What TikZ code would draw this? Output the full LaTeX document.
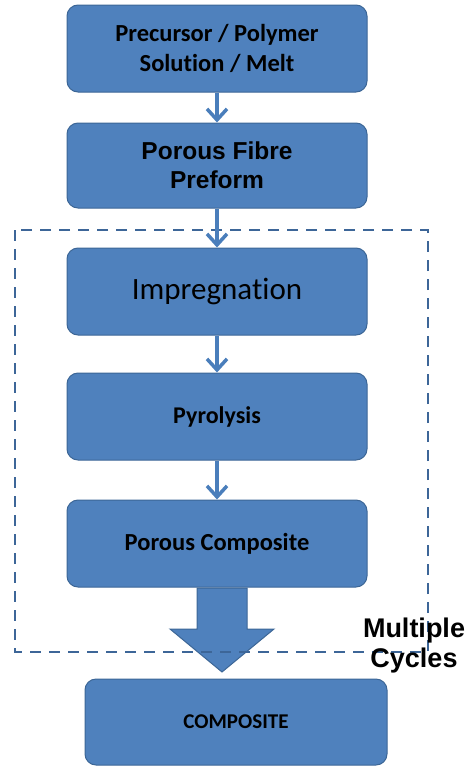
\documentclass[tikz,border=0pt]{standalone}
\usepackage{fontspec}
\setmainfont{Carlito}[RawFeature={-liga;-clig;-dlig}]
\newfontfamily\arialf{Liberation Sans}
\usetikzlibrary{arrows.meta}
\definecolor{boxfill}{HTML}{4F81BD}
\definecolor{boxedge}{HTML}{3C6696}
\definecolor{arrowc}{HTML}{4A7EBB}
\definecolor{dashc}{HTML}{3D6698}
\begin{document}
\begin{tikzpicture}[x=1pt,y=-1pt,
  stepbox/.style={draw=boxedge,fill=boxfill,line width=1pt,rounded corners=11pt,minimum width=300pt,minimum height=87pt,align=center,text=black,inner sep=0pt},
  smallarrow/.style={draw=arrowc,line width=3.5pt,-{Straight Barb[length=11pt,width=20pt,line width=3.5pt]}}]
\useasboundingbox (0,0) rectangle (475,766);
\node[stepbox,font=\bfseries\fontsize{24.5}{30}\selectfont] (a) at (217,48.5) {Precursor / Polymer\\Solution / Melt};
\node[stepbox,minimum height=85pt,font=\arialf\bfseries\fontsize{24.5}{29}\selectfont] (b) at (217,165.5) {Porous Fibre\\Preform};
\node[stepbox,font=\fontsize{31}{36}\selectfont] (c) at (217,291.5) {Impregnat\kern0pt ion};
\node[stepbox,font=\bfseries\fontsize{24}{28}\selectfont] (d) at (217,416.5) {Pyrolysis};
\node[stepbox,font=\bfseries\fontsize{24.5}{28}\selectfont] (e) at (217,543.5) {Porous Composite};
\node[stepbox,minimum width=302pt,minimum height=86pt,font=\bfseries\fontsize{21}{25}\selectfont] (f) at (236,722) {COMPOSITE};
\coordinate (tip) at (222,672);
\draw[draw=boxedge,fill=boxfill,line width=1pt] (197,588) -- (197,629) -- (170,629) -- (tip) -- (274,629) -- (247,629) -- (247,588) -- cycle;
\draw[dashc,line width=2.5pt,dash pattern=on 11pt off 8pt] (15,230) rectangle (428,652);
\draw[smallarrow] (a.south) -- (b.north);
\draw[smallarrow] (b.south) -- (c.north);
\draw[smallarrow] (c.south) -- (d.north);
\draw[smallarrow] (d.south) -- (e.north);
\node[font=\arialf\bfseries\fontsize{27}{30}\selectfont,align=center,inner sep=0pt] (mc) at (414,646) {Multiple\\Cycles};
\end{tikzpicture}
\end{document}
